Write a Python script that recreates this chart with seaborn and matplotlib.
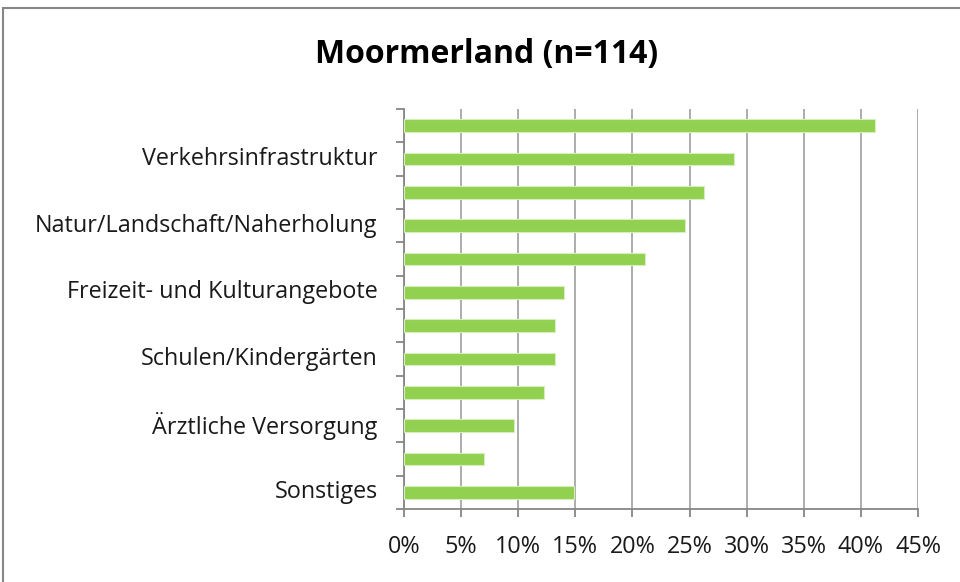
import matplotlib
matplotlib.use("Agg")
import matplotlib.pyplot as plt
from matplotlib.patches import Rectangle
from matplotlib.ticker import FixedLocator
from matplotlib.transforms import ScaledTranslation
import seaborn as sns
import pandas as pd

# Share of answers per category, in percent (n = 114), top to bottom
rank = list(range(1, 13))
share = [41.2, 28.9, 26.3, 24.6, 21.1, 14.0, 13.2, 13.2, 12.3, 9.6, 7.0, 14.9]
# Only every second category carries a visible label on the axis
tick_labels = ["", "Verkehrsinfrastruktur",
               "", "Natur/Landschaft/Naherholung",
               "", "Freizeit- und Kulturangebote",
               "", "Schulen/Kindergärten",
               "", "Ärztliche Versorgung",
               "", "Sonstiges"]
x_ticks = [0, 5, 10, 15, 20, 25, 30, 35, 40, 45]
title = "Moormerland (n=114)"

df = pd.DataFrame({"rang": rank, "anteil": share})

sns.set_theme(style="white")
plt.rcParams["font.family"] = ["Open Sans", "DejaVu Sans"]

W, H = 960, 582
fig = plt.figure(figsize=(W / 100, H / 100), dpi=100)
fig.patch.set_facecolor("white")

left, right, top, bottom = 404, 918, 109, 509
ax = fig.add_axes([left / W, 1 - bottom / H, (right - left) / W, (bottom - top) / H])

sns.barplot(data=df, x="anteil", y="rang", orient="h", ax=ax,
            color="#92D050", saturation=1, width=0.385,
            edgecolor="#D6EFBD", linewidth=0.8, zorder=3)

grid_c = "#A6A6A6"
ax.set_xlim(0, 45)
ax.set_ylim(len(rank) - 0.5, -0.5)
ax.set_xticks(x_ticks)
ax.set_xticklabels([f"{t}%" for t in x_ticks])
ax.xaxis.grid(True, color=grid_c, linewidth=1.3, zorder=0)
ax.yaxis.grid(False)
ax.set_xlabel("")
ax.set_ylabel("")

ax.set_yticks(range(len(rank)))
ax.set_yticklabels(tick_labels)
ax.yaxis.set_minor_locator(FixedLocator([i - 0.5 for i in range(len(rank) + 1)]))
ax.tick_params(axis="y", which="major", length=0, pad=19, labelsize=16.8, labelcolor="#1a1a1a")
ax.tick_params(axis="y", which="minor", left=True, length=6, width=1.3, color="#868686")
ax.tick_params(axis="x", which="major", bottom=True, length=6, width=1.3, color="#868686",
               pad=13, labelsize=16.8, labelcolor="#1a1a1a")

# Category labels sit a little above the bar centre
lift = ScaledTranslation(0, 0.03, fig.dpi_scale_trans)
for lbl in ax.get_yticklabels():
    lbl.set_transform(lbl.get_transform() + lift)

for side in ("top", "right"):
    ax.spines[side].set_visible(False)
for side in ("left", "bottom"):
    ax.spines[side].set_color("#868686")
    ax.spines[side].set_linewidth(1.3)

fig.text(487 / W, 1 - 55 / H, title, ha="center", va="center",
         fontsize=23, fontweight="bold", color="black")

# Outer chart frame
fig.patches.append(Rectangle((3 / W, -0.1), 1.1, 1 - 8 / H + 0.1,
                             transform=fig.transFigure, fill=False,
                             edgecolor="#868686", linewidth=1.5))

fig.savefig("out.png", dpi=100, facecolor="white")
